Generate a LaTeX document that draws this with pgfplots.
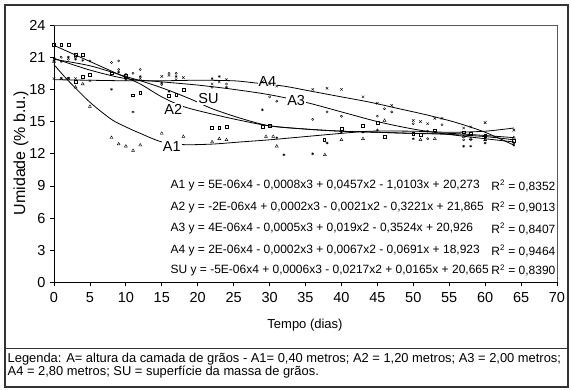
\documentclass[border=0pt]{standalone}
\usepackage{pgfplots}
\pgfplotsset{compat=1.18}
\usepackage{fontspec}
\setmainfont{Liberation Sans}
\begin{document}
\begin{tikzpicture}
\useasboundingbox (0pt,0pt) rectangle (571pt,390pt);
\begin{axis}[
  at={(54pt,107.5pt)}, anchor=south west,
  scale only axis, width=503pt, height=257.5pt,
  xmin=0, xmax=70, ymin=0, ymax=24,
  xtick={0,5,...,70}, ytick={0,3,...,24},
  axis x line*=bottom, axis y line*=left,
  axis line style={line width=0.8pt, black},
  tick align=outside, major tick length=4pt,
  tick style={line width=0.8pt, black},
  /pgf/number format/assume math mode=true,
  tick label style={font=\fontsize{14.5}{14.5}\selectfont},
  yticklabel style={xshift=-1pt},
  xticklabel style={yshift=-2pt},
  clip=false,
]
\draw[black!65, line width=0.8pt] (rel axis cs:0,1) -- (rel axis cs:1,1) -- (rel axis cs:1,0);
% A1 triangles
\addplot[only marks, mark=triangle, mark size=1.7pt, line width=0.4pt] coordinates {
(0,20.6)(1,19.0)(2,19.0)(3,18.2)(4,18.5)(5,16.4)(8,13.5)(9,12.9)(10,12.7)(11,12.3)(12,12.8)
(15,13.9)(18,13.6)(22,13.1)(23,13.4)(24,13.3)(29.5,13.6)(30.5,13.6)(31,12.7)(37.7,11.9)
(40,13.3)(43,13.4)(46,15.1)(51,13.3)(53,13.4)(57,13.6)(58,13.4)(60,13.3)(64,13.5)};
% A2 squares
\addplot[only marks, mark=square, mark size=1.4pt, line width=0.4pt] coordinates {
(0,22.2)(1,22.2)(2,22.2)(3,21.2)(4,21.2)(3,18.7)(4,19.2)(5,19.4)(8,19.5)(10,19.3)(11,17.45)
(12,17.7)(16,17.4)(17,17.5)(18,18.0)(22,14.4)(23,14.4)(24,14.5)(29,14.5)(30,14.6)(37.6,13.3)
(40,14.3)(43,14.6)(45,14.9)(46,13.6)(50,13.9)(51,13.8)(53,14.2)(57,14.0)(58,13.9)(60,13.7)(64,13.2)};
% A3 circles
\addplot[only marks, mark=o, mark size=1.1pt, line width=0.4pt] coordinates {
(0,20.7)(1,21.0)(2,20.8)(3,21.0)(5,20.65)(8,20.5)(9,20.65)(9,19.85)(10,19.4)(11,19.5)(12,19.85)
(15,18.45)(16,19.5)(17,19.5)(22,18.2)(24,18.5)(30,17.3)(31,16.9)(36,15.2)(38,15.9)(40,15.5)
(45,15.5)(46,16.2)(47,15.9)(50,14.8)(54,14.7)(52,13.4)(57,13.3)(58,13.3)(60,13.3)(64,13.0)};
% A4 crosses
\addplot[only marks, mark=x, mark size=1.8pt, line width=0.4pt] coordinates {
(0,19.0)(1,19.0)(2,19.0)(3,19.0)(5,18.8)(10,18.9)(12,19.0)(15,19.2)(16,19.3)(17,18.9)(18,19.1)
(22,18.5)(23,18.7)(24,18.9)(29,18.7)(30,18.5)(31,18.3)(36,18.0)(38,18.1)(40,18.0)(43,17.3)
(45,16.7)(47,16.5)(50,15.1)(51,15.0)(52,14.8)(53,15.3)(54,15.3)(57,14.4)(58,14.5)(60,14.9)(64,14.2)};
% SU
\addplot[only marks, mark=asterisk, mark size=1.4pt, line width=0.4pt] coordinates {
(0,20.9)(1,20.6)(2,21.0)(3,20.8)(4,20.7)(8,18.0)(9,19.6)(10,19.0)(11,15.9)(12,19.2)(15,18.6)
(16,17.8)(17,19.2)(22,19.0)(23,19.2)(24,18.2)(29,16.1)(31,13.5)(32,11.9)(36,12.0)(38,13.0)
(40,14.0)(43,14.0)(45,14.2)(50,13.4)(52,14.1)(57,12.7)(58,12.7)(60,13.0)(64,12.8)};
% trend curves
\addplot[smooth, no markers, line width=0.8pt] coordinates {
(0,20.3)(2,18.8)(5,16.8)(8,15.2)(10,14.5)(12,13.9)(15,13.1)(18,12.85)(22,12.9)(26,13.1)
(30,13.3)(35,13.6)(40,13.9)(44,14.1)(50,14.1)(55,14.0)(60,14.1)(64,14.4)};
\addplot[smooth, no markers, line width=0.8pt] coordinates {
(0,22.1)(3,21.2)(6,20.3)(9,19.4)(12,18.5)(15,17.3)(18,16.4)(22,15.7)(26,15.1)(30,14.6)
(35,14.3)(40,14.1)(45,14.0)(50,13.9)(55,13.8)(60,13.6)(64,13.3)};
\addplot[smooth, no markers, line width=0.8pt] coordinates {
(0,20.9)(5,19.8)(10,19.0)(15,18.7)(20,18.4)(25,18.0)(30,17.5)(35,16.8)(40,15.9)(45,15.0)
(50,14.3)(55,13.8)(60,13.4)(64,13.1)};
\addplot[smooth, no markers, line width=0.8pt] coordinates {
(0,18.9)(5,18.85)(10,18.8)(15,18.8)(20,18.85)(25,18.8)(28,18.6)(32,18.3)(36,17.8)(40,17.3)
(44,16.8)(48,16.2)(52,15.6)(56,14.9)(60,14.0)(64,12.8)};
\addplot[smooth, no markers, line width=0.8pt] coordinates {
(0,20.8)(5,20.2)(10,19.2)(13,18.6)(16,17.9)(19,17.1)(22,16.2)(26,15.3)(30,14.6)(35,14.3)
(40,14.1)(45,14.0)(50,13.9)(55,13.9)(60,13.7)(64,13.5)};
% curve labels
\tikzset{cl/.style={fill=white, inner sep=1pt, font=\fontsize{14.5}{14.5}\selectfont}}
\node[cl] at (axis cs:16.4,12.7) {A1};
\node[cl] at (axis cs:16.6,16.15) {A2};
\node[cl] at (axis cs:21.5,17.15) {SU};
\node[cl] at (axis cs:29.7,18.7) {A4};
\node[cl] at (axis cs:33.7,16.93) {A3};
% equations
\tikzset{eq/.style={inner sep=0pt, font=\fontsize{12}{12}\selectfont}}
\node[eq, anchor=west] at (axis cs:16.2,9.0) {A1 y = 5E-06x4 - 0,0008x3 + 0,0457x2 - 1,0103x + 20,273};
\node[eq, anchor=east] at (axis cs:69.8,9.0) {R\textsuperscript{2} = 0,8352};
\node[eq, anchor=west] at (axis cs:16.2,7.0) {A2 y = -2E-06x4 + 0,0002x3 - 0,0021x2 - 0,3221x + 21,865};
\node[eq, anchor=east] at (axis cs:69.8,7.0) {R\textsuperscript{2} = 0,9013};
\node[eq, anchor=west] at (axis cs:16.2,5.0) {A3 y = 4E-06x4 - 0,0005x3 + 0,019x2 - 0,3524x + 20,926};
\node[eq, anchor=east] at (axis cs:69.8,5.0) {R\textsuperscript{2} = 0,8407};
\node[eq, anchor=west] at (axis cs:16.2,2.95) {A4 y = 2E-06x4 - 0,0002x3 + 0,0067x2 - 0,0691x + 18,923};
\node[eq, anchor=east] at (axis cs:69.8,2.95) {R\textsuperscript{2} = 0,9464};
\node[eq, anchor=west] at (axis cs:16.2,1.15) {SU y = -5E-06x4 + 0,0006x3 - 0,0217x2 + 0,0165x + 20,665};
\node[eq, anchor=east] at (axis cs:69.8,1.15) {R\textsuperscript{2} = 0,8390};
\end{axis}
% axis titles
\node[rotate=90, font=\fontsize{16}{16}\selectfont] at (21pt,237pt) {Umidade (\% b.u.)};
\node[font=\fontsize{13}{13}\selectfont] at (305pt,65pt) {Tempo (dias)};
% frame and legend
\draw[black!80, line width=1.2pt] (5pt,3pt) rectangle (568pt,385pt);
\draw[black!80, line width=0.8pt] (5pt,42pt) -- (568pt,42pt);
\node[anchor=north west, align=left, inner sep=0pt, font=\fontsize{12.9}{13.8}\selectfont] at (7.5pt,37.5pt)
 {Legenda: A= altura da camada de grãos - A1= 0,40 metros; A2 = 1,20 metros; A3 = 2,00 metros;\\
  A4 = 2,80 metros; SU = superfície da massa de grãos.};
\end{tikzpicture}
\end{document}
